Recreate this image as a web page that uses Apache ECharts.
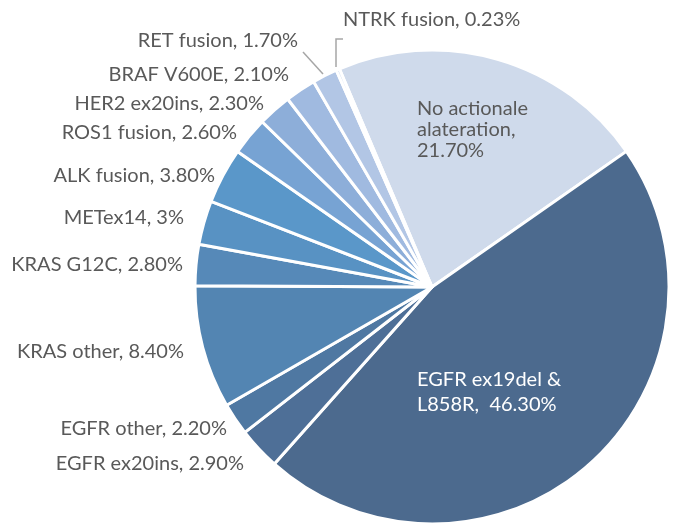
<!DOCTYPE html>
<html>
<head>
<meta charset="utf-8">
<script src="https://cdn.jsdelivr.net/npm/echarts@6/dist/echarts.min.js"></script>
<style>
  html, body { margin: 0; padding: 0; background: #fff; }
  #chart { width: 675px; height: 525px; }
</style>
</head>
<body>
<div id="chart"></div>
<script>
// slices, clockwise from the top-left gap
const categories = [
  'No actionale\nalateration,', 'EGFR ex19del &\nL858R, ', 'EGFR ex20ins,', 'EGFR other,',
  'KRAS other,', 'KRAS G12C,', 'METex14,', 'ALK fusion,', 'ROS1 fusion,',
  'HER2 ex20ins,', 'BRAF V600E,', 'RET fusion,', 'NTRK fusion,'
];
const values = [21.7, 46.3, 2.9, 2.2, 8.4, 2.8, 3, 3.8, 2.6, 2.3, 2.1, 1.7, 0.23];
const valueLabels = ['21.70%', '46.30%', '2.90%', '2.20%', '8.40%', '2.80%', '3%', '3.80%', '2.60%', '2.30%', '2.10%', '1.70%', '0.23%'];

const colors = [
  '#CFDAEB', '#4C6A8E', '#4E6F97', '#4F78A2', '#5385B2', '#5689B8', '#5892C3',
  '#5A97C9', '#77A3D3', '#8DAED9', '#A0BAE0', '#B2C6E5', '#C0D0EA'
];

// label anchors [x, y, align]
const labelPos = [
  [417, 130, 'left'], [417, 392, 'left'], [244, 464, 'right'], [227, 429, 'right'],
  [184, 352, 'right'], [183, 265, 'right'], [184, 218, 'right'], [215, 176, 'right'],
  [237, 133, 'right'], [264, 104, 'right'], [289, 75, 'right'], [298, 41, 'right'],
  [343, 20, 'left']
];
const leaderLines = {
  11: [[323, 74], [313, 63], [303, 52]],
  12: [[336, 67], [336, 39], [343, 39]]
};

const chart = echarts.init(document.getElementById('chart'));

const option = {
  backgroundColor: '#fff',
  animation: false,
  color: colors,
  textStyle: { fontFamily: 'Lato, sans-serif' },
  series: [
    {
      type: 'pie',
      center: [432, 287],
      radius: 237,
      startAngle: 113,
      clockwise: true,
      itemStyle: { borderColor: '#fff', borderWidth: 3 },
      label: {
        show: true,
        position: 'outside',
        fontSize: 20,
        color: '#595959',
        lineHeight: 21,
        overflow: 'none',
        formatter: (p) => {
          const sep = p.dataIndex === 0 ? '\n' : ' ';
          return categories[p.dataIndex] + sep + valueLabels[p.dataIndex];
        }
      },
      labelLine: {
        show: true,
        length: 5,
        length2: 5,
        lineStyle: { color: '#A6A6A6', width: 1.5 }
      },
      labelLayout: (params) => {
        const i = params.dataIndex;
        const pos = labelPos[i];
        const res = { x: pos[0], y: pos[1], align: pos[2], verticalAlign: 'middle' };
        res.labelLinePoints = leaderLines[i] || [[0, 0], [0, 0], [0, 0]];
        return res;
      },
      data: values.map((v, i) => {
        const d = { name: categories[i], value: v };
        if (i === 1) d.label = { color: '#fff', lineHeight: 25 };
        if (!leaderLines[i]) d.labelLine = { show: false };
        return d;
      })
    }
  ]
};

chart.setOption(option);
</script>
</body>
</html>
